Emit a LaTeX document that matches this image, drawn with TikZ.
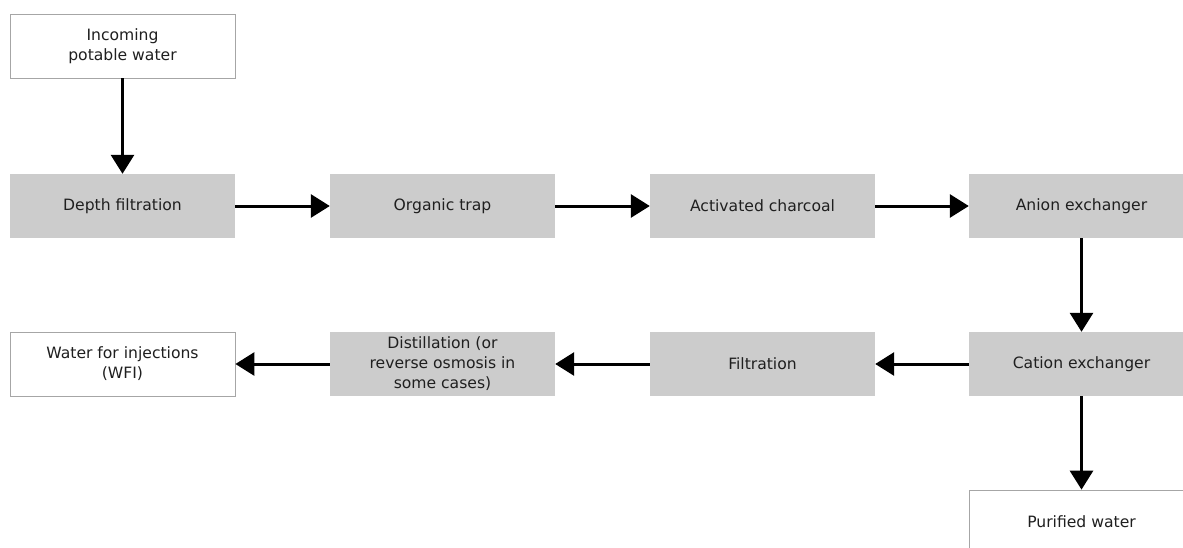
\documentclass[tikz,border=0pt]{standalone}
\usepackage{fontspec}
\setmainfont{DejaVu Sans}
\usetikzlibrary{arrows.meta}
\begin{document}
\begin{tikzpicture}[x=1pt,y=-1pt,
  box/.style={minimum width=225pt,minimum height=64pt,inner sep=2pt,
    align=center,text=black!88,font=\fontsize{15.6}{20}\selectfont,anchor=center},
  stage/.style={box,fill=black!20,draw=none},
  endpoint/.style={box,fill=white,draw=black!35,line width=0.8pt},
  flow/.style={line width=3pt,-{Triangle[length=19pt,width=23pt]}}]
\useasboundingbox (0,0) rectangle (1183,547);
% top row
\node[endpoint] (in) at (122.5,46) {Incoming\\potable water};
\node[stage] (depth) at (122.5,206) {Depth filtration};
\node[stage] (org) at (442.5,206) {Organic trap};
\node[stage] (char) at (762.5,206) {Activated charcoal};
\node[stage] (anion) at (1081.5,206) {Anion exchanger};
% second row
\node[stage] (cation) at (1081.5,364) {Cation exchanger};
\node[stage] (filt) at (762.5,364) {Filtration};
\node[stage] (dist) at (442.5,364) {Distillation (or\\reverse osmosis in\\some cases)};
\node[endpoint] (wfi) at (122.5,364) {Water for injections\\(WFI)};
% outlet
\node[endpoint] (pure) at (1081.5,522) {Purified water};
% connectors
\draw[flow] (in) -- (depth);
\draw[flow] (depth) -- (org);
\draw[flow] (org) -- (char);
\draw[flow] (char) -- (anion);
\draw[flow] (anion) -- (cation);
\draw[flow] (cation) -- (filt);
\draw[flow] (filt) -- (dist);
\draw[flow] (dist) -- (wfi);
\draw[flow] (cation) -- (pure);
\end{tikzpicture}
\end{document}
